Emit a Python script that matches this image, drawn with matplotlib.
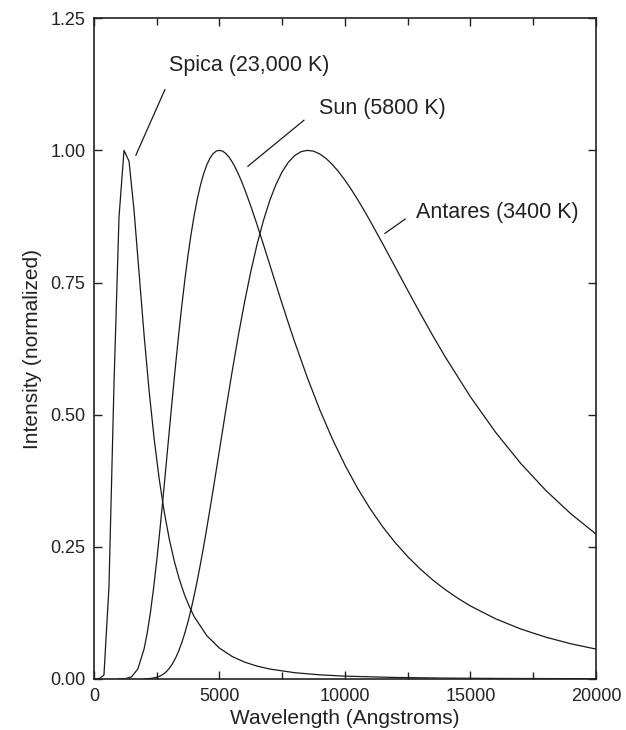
import matplotlib
matplotlib.use("Agg")
import matplotlib.pyplot as plt
from matplotlib.ticker import MultipleLocator, FormatStrFormatter

plt.rcParams['font.family'] = ['Liberation Sans', 'DejaVu Sans']

# Spica (23,000 K)
spica_wl = [0, 200, 400, 600, 800, 1000, 1200, 1400, 1600, 1800, 2000, 2200, 2400, 2600,
            2800, 3000, 3200, 3400, 3600, 3800, 4000, 4500, 5000, 5500, 6000, 6500, 7000,
            8000, 9000, 10000, 12000, 14000, 16000, 18000, 20000]
spica_int = [0.0, 0.0, 0.0072, 0.1733, 0.557, 0.8736, 1.0, 0.9795, 0.886, 0.7676, 0.6502,
             0.5448, 0.4544, 0.3789, 0.3165, 0.2653, 0.2233, 0.1888, 0.1604, 0.1369, 0.1174,
             0.0816, 0.0583, 0.0426, 0.0318, 0.0242, 0.0187, 0.0117, 0.0077, 0.0052, 0.0027,
             0.0015, 0.0009, 0.0006, 0.0004]

# Sun (5800 K)
sun_wl = [1000, 1250, 1500, 1750, 2000, 2125, 2250, 2375, 2500, 2625, 2750, 2875, 3000, 3125,
          3250, 3375, 3500, 3625, 3750, 3875, 4000, 4125, 4250, 4375, 4500, 4625, 4750, 4875,
          5000, 5125, 5250, 5375, 5500, 5625, 5750, 5875, 6000, 6250, 6500, 6750, 7000, 7250,
          7500, 7750, 8000, 8500, 9000, 9500, 10000, 10500, 11000, 11500, 12000, 12500, 13000,
          13500, 14000, 14500, 15000, 16000, 17000, 18000, 19000, 20000]
sun_int = [0.0, 0.0004, 0.0038, 0.0188, 0.0568, 0.0871, 0.1251, 0.1706, 0.2225, 0.2797, 0.3406,
           0.4038, 0.4676, 0.5308, 0.5922, 0.6506, 0.7054, 0.7559, 0.8018, 0.8426, 0.8784,
           0.9093, 0.9352, 0.9564, 0.9728, 0.9854, 0.9939, 0.9987, 1.0, 0.9986, 0.9943, 0.9877,
           0.9788, 0.9682, 0.9558, 0.9422, 0.9272, 0.8946, 0.8593, 0.8224, 0.7847, 0.7469,
           0.7095, 0.6729, 0.6374, 0.5703, 0.5090, 0.4539, 0.4047, 0.3610, 0.3223, 0.2881,
           0.2580, 0.2314, 0.2079, 0.1871, 0.1688, 0.1525, 0.1380, 0.1138, 0.0945, 0.0790,
           0.0665, 0.0564]

# Antares (3400 K)
antares_wl = [2000, 2250, 2500, 2625, 2750, 2875, 3000, 3125, 3250, 3375, 3500, 3625, 3750, 3875,
              4000, 4125, 4250, 4375, 4500, 4750, 5000, 5250, 5500, 5750, 6000, 6250, 6500,
              6750, 7000, 7250, 7500, 7750, 8000, 8250, 8500, 8750, 9000, 9250, 9500, 9750,
              10000, 10250, 10500, 10750, 11000, 11500, 12000, 12500, 13000, 13500, 14000,
              15000, 16000, 17000, 18000, 19000, 20000]
antares_int = [0.0001, 0.0008, 0.0029, 0.0051, 0.0085, 0.0132, 0.0197, 0.0283, 0.0391, 0.0524,
               0.0684, 0.0871, 0.1084, 0.1324, 0.1590, 0.1878, 0.2188, 0.2516, 0.2859, 0.3579,
               0.4323, 0.5070, 0.5796, 0.6486, 0.7126, 0.7707, 0.8221, 0.8667, 0.9044, 0.9352,
               0.9596, 0.9777, 0.9903, 0.9975, 1.0, 0.9985, 0.9931, 0.9846, 0.9732, 0.9595,
               0.9436, 0.9263, 0.9074, 0.8876, 0.8668, 0.8237, 0.7795, 0.7353, 0.6917, 0.6495,
               0.6089, 0.5337, 0.4667, 0.4079, 0.3567, 0.3124, 0.2741]

labels = ["Spica (23,000 K)", "Sun (5800 K)", "Antares (3400 K)"]
label_pos = [(3000, 1.161), (8950, 1.080), (12850, 0.883)]
leader_lines = [((1673, 0.991), (2829, 1.115)),
                ((6135, 0.970), (8367, 1.057)),
                ((11594, 0.843), (12400, 0.870))]

fig = plt.figure(figsize=(6.26, 7.30), dpi=100)
ax = fig.add_axes([0.150, 0.070, 0.802, 0.905])

line_color = '#1a1a1a'
for wl, inten in [(spica_wl, spica_int), (sun_wl, sun_int), (antares_wl, antares_int)]:
    ax.plot(wl, inten, color=line_color, lw=0.9)

for (p0, p1) in leader_lines:
    ax.plot([p0[0], p1[0]], [p0[1], p1[1]], color=line_color, lw=0.9)

for txt, (x, y) in zip(labels, label_pos):
    ax.text(x, y, txt, fontsize=15.5, color='#222222', ha='left', va='center')

ax.set_xlim(0, 20000)
ax.set_ylim(0, 1.25)
ax.xaxis.set_major_locator(MultipleLocator(5000))
ax.xaxis.set_minor_locator(MultipleLocator(2500))
ax.yaxis.set_major_locator(MultipleLocator(0.25))
ax.yaxis.set_major_formatter(FormatStrFormatter('%.2f'))

ax.tick_params(which='both', direction='in', top=True, right=True, colors='#222222',
               labelsize=13, width=1.0)
ax.tick_params(which='major', length=6)
ax.tick_params(which='minor', length=5)
ax.tick_params(axis='x', pad=6.5)
ax.tick_params(axis='y', pad=6)
for s in ax.spines.values():
    s.set_linewidth(1.2)
    s.set_color('#222222')

ax.set_xlabel("Wavelength (Angstroms)", fontsize=15, color='#222222', labelpad=3)
ax.set_ylabel("Intensity (normalized)", fontsize=15, color='#222222', labelpad=6)

fig.savefig("out.png", dpi=100)
